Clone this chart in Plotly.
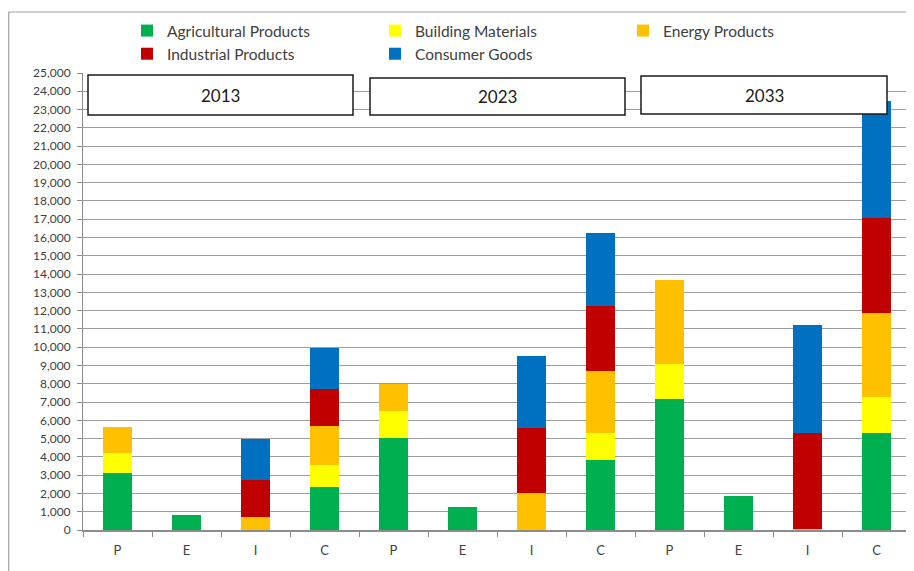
import plotly.graph_objects as go

# ---- data ----
cat_labels = ["P", "E", "I", "C", "P", "E", "I", "C", "P", "E", "I", "C"]
years = ["2013", "2023", "2033"]
agricultural = [3100, 800, 0, 2370, 5010, 1270, 0, 3830, 7140, 1860, 0, 5280]
building = [1090, 0, 0, 1160, 1510, 0, 0, 1450, 1930, 0, 0, 1970]
energy = [1450, 0, 730, 2170, 1460, 0, 2000, 3410, 4630, 0, 60, 4620]
industrial = [0, 0, 2000, 2020, 0, 0, 3560, 3570, 0, 0, 5220, 5220]
consumer = [0, 0, 2260, 2230, 0, 0, 3950, 4010, 0, 0, 5910, 6400]

series = [
    ("Agricultural Products", agricultural, "#00B050"),
    ("Building Materials", building, "#FFFF00"),
    ("Energy Products", energy, "#FFC000"),
    ("Industrial Products", industrial, "#C00000"),
    ("Consumer Goods", consumer, "#0070C0"),
]

# page has an 8px body margin -> figure origin sits at page (8, 8)
OFF = 8
W, H = 906, 563
ML, MR, MT, MB = 75, 3, 65, 41
PW, PH = W - ML - MR, H - MT - MB

def px_x(p):  # page x -> paper x
    return (p - OFF - ML) / PW

def px_y(p):  # page y -> paper y
    return (H - MB - (p - OFF)) / PH

FONT = "Lato"
TXT = "#404040"

xs = list(range(len(cat_labels)))
fig = go.Figure()
for name, vals, col in series:
    fig.add_trace(go.Bar(x=xs, y=vals, name=name, marker=dict(color=col, line=dict(width=0)),
                         width=0.41))

shapes = []
annotations = []
# year boxes (page pixel positions)
boxes = [(88, 353, 75, 115), (370, 625, 78, 115), (641, 887, 76, 114)]
for (x0, x1, y0, y1), yr in zip(boxes, years):
    shapes.append(dict(type="rect", xref="paper", yref="paper",
                       x0=px_x(x0), x1=px_x(x1), y0=px_y(y1), y1=px_y(y0),
                       fillcolor="white", line=dict(color="#1a1a1a", width=1.5), layer="above"))
    annotations.append(dict(xref="paper", yref="paper", x=px_x((x0 + x1) / 2), y=px_y((y0 + y1) / 2),
                            text=yr, showarrow=False, font=dict(family=FONT, size=17, color="#1a1a1a"),
                            xanchor="center", yanchor="middle"))
# outer chart border (left + top)
shapes.append(dict(type="line", xref="paper", yref="paper", x0=px_x(8.7), x1=px_x(8.7),
                   y0=px_y(575), y1=px_y(12), line=dict(color="#a0a0a0", width=1.2)))
shapes.append(dict(type="line", xref="paper", yref="paper", x0=px_x(8.7), x1=px_x(920),
                   y0=px_y(12), y1=px_y(12), line=dict(color="#a0a0a0", width=1.2)))

fig.update_layout(
    width=W, height=H,
    margin=dict(l=ML, r=MR, t=MT, b=MB, autoexpand=False),
    barmode="stack",
    plot_bgcolor="white", paper_bgcolor="white",
    font=dict(family=FONT, size=12, color=TXT),
    shapes=shapes, annotations=annotations,
    legend=dict(orientation="h", xref="container", yref="container",
                x=119 / W, y=1 - 6 / H, xanchor="left", yanchor="top",
                entrywidth=203, entrywidthmode="pixels", itemwidth=30,
                font=dict(family=FONT, size=15.5, color=TXT), traceorder="normal",
                bgcolor="rgba(0,0,0,0)"),
    xaxis=dict(range=[-0.5, 11.5], tickmode="array", tickvals=xs, ticktext=cat_labels,
               ticks="", showgrid=False, zeroline=False,
               showline=True, linecolor="#8c8c8c", linewidth=2,
               tickfont=dict(family=FONT, size=13, color=TXT), ticklabelstandoff=7,
               minor=dict(tickmode="linear", tick0=-0.5, dtick=1, ticks="outside",
                          ticklen=5, tickcolor="#8c8c8c", tickwidth=1, showgrid=False)),
    yaxis=dict(range=[0, 25000], tickmode="linear", tick0=0, dtick=1000,
               tickformat=",d", ticks="outside", ticklen=5, tickcolor="#8c8c8c",
               showgrid=True, gridcolor="#9e9e9e", gridwidth=1, zeroline=False,
               showline=True, linecolor="#8c8c8c", linewidth=1, ticklabelstandoff=4,
               tickfont=dict(family=FONT, size=12, color=TXT)),
)

fig.write_html("out.html")
